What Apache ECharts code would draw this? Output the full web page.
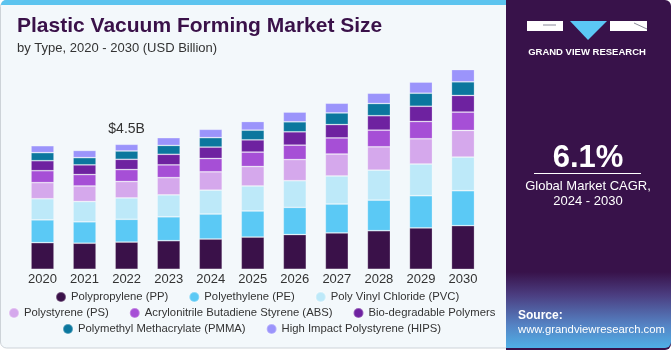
<!DOCTYPE html>
<html>
<head>
<meta charset="utf-8">
<title>Plastic Vacuum Forming Market Size</title>
<script src="https://cdn.jsdelivr.net/npm/echarts@6/dist/echarts.min.js"></script>
<style>
  html, body { margin: 0; padding: 0; background: #ffffff; }
  #main { width: 671px; height: 350px; }
</style>
</head>
<body>
<div id="main"></div>
<script>
// 数据
var years = ["2020", "2021", "2022", "2023", "2024", "2025", "2026", "2027", "2028", "2029", "2030"];
var pp   = [0.96, 0.94, 0.98, 1.03, 1.09, 1.16, 1.25, 1.31, 1.39, 1.49, 1.57];
var pe   = [0.82, 0.77, 0.82, 0.86, 0.90, 0.94, 0.98, 1.04, 1.10, 1.16, 1.26];
var pvc  = [0.76, 0.73, 0.77, 0.79, 0.86, 0.90, 0.96, 1.01, 1.08, 1.14, 1.21];
var ps   = [0.58, 0.56, 0.59, 0.62, 0.66, 0.70, 0.76, 0.79, 0.84, 0.91, 0.96];
var abs  = [0.43, 0.41, 0.43, 0.46, 0.48, 0.52, 0.52, 0.58, 0.60, 0.62, 0.66];
var bio  = [0.36, 0.35, 0.37, 0.38, 0.41, 0.44, 0.48, 0.48, 0.52, 0.55, 0.60];
var pmma = [0.29, 0.26, 0.30, 0.32, 0.34, 0.35, 0.36, 0.42, 0.44, 0.47, 0.49];
var hips = [0.25, 0.26, 0.24, 0.28, 0.30, 0.31, 0.35, 0.35, 0.37, 0.40, 0.44];
var names = [
  "Polypropylene (PP)",
  "Polyethylene (PE)",
  "Poly Vinyl Chloride (PVC)",
  "Polystyrene (PS)",
  "Acrylonitrile Butadiene Styrene (ABS)",
  "Bio-degradable Polymers",
  "Polymethyl Methacrylate (PMMA)",
  "High Impact Polystyrene (HIPS)"
];
var colors = ["#3a1149", "#5bc9f5", "#bde9f9", "#d5a8ec", "#a64fd6", "#6e22a0", "#0b779e", "#9b94fb"];
var labelYear = "2022";
var labelText = "$4.5B";
var cagr = "6.1%";

(function () {
  var myChart = echarts.init(document.getElementById("main"));
  var font = "Liberation Sans, Arial, sans-serif";
  var all = [pp, pe, pvc, ps, abs, bio, pmma, hips];

  var series = all.map(function (vals, i) {
    var data = vals.slice();
    // 最上面一层加 $4.5B 标签
    if (i === all.length - 1) {
      var k = years.indexOf(labelYear);
      data[k] = {
        value: vals[k],
        label: {
          show: true,
          position: "top",
          distance: 8,
          formatter: labelText,
          color: "#333",
          fontSize: 14,
          fontFamily: font
        }
      };
    }
    return {
      name: names[i],
      type: "bar",
      stack: "total",
      barWidth: 23,
      data: data,
      itemStyle: {
        color: colors[i],
        borderColor: "rgba(255,255,255,0.3)",
        borderWidth: 0.8
      },
      emphasis: { disabled: true },
      animation: false
    };
  });

  var legendBase = {
    icon: "circle",
    itemWidth: 10,
    itemHeight: 10,
    itemGap: 20,
    padding: 0,
    textStyle: { color: "#333", fontSize: 11.3, fontFamily: font }
  };
  function legend(left, top, data) {
    return Object.assign({}, legendBase, { left: left, top: top, data: data });
  }

  var option = {
    color: colors,
    title: {
      text: "Plastic Vacuum Forming Market Size",
      subtext: "by Type, 2020 - 2030 (USD Billion)",
      left: 17,
      top: 16,
      padding: 0,
      itemGap: 5,
      textStyle: { color: "#3a1149", fontSize: 21, fontWeight: "bold", fontFamily: font },
      subtextStyle: { color: "#333", fontSize: 13, fontFamily: font }
    },
    legend: [
      legend(55, 291, names.slice(0, 3)),
      legend(8, 307, names.slice(3, 6)),
      legend(62, 323, names.slice(6, 8))
    ],
    grid: { left: 21.5, right: 187, top: 47.1, bottom: 80.7 },
    xAxis: {
      type: "category",
      data: years,
      axisLine: { show: false },
      axisTick: { show: false },
      axisLabel: { color: "#333", fontSize: 13, margin: 4, fontFamily: font }
    },
    yAxis: { type: "value", min: 0, max: 8, show: false },
    graphic: [
      // 卡片背景
      { type: "rect", z: -10, shape: { x: 0.5, y: 0.5, width: 520, height: 347.5, r: 6 },
        style: { fill: "#f3f8fb", stroke: "#cdd3d8", lineWidth: 1 } },
      { type: "rect", z: -9, shape: { x: 1, y: 0, width: 510, height: 5, r: [6, 0, 0, 0] },
        style: { fill: "#5cc4ef" } },
      // 右侧面板
      { type: "rect", z: -8, shape: { x: 506, y: 0, width: 165, height: 350, r: [0, 6, 6, 0] },
        style: { fill: "#38124a" } },
      { type: "rect", z: -7, shape: { x: 506, y: 272, width: 165, height: 76, r: [0, 0, 6, 0] },
        style: { fill: new echarts.graphic.LinearGradient(0, 0, 0, 1, [
          { offset: 0, color: "#38124a" },
          { offset: 0.3, color: "#4b3d80" },
          { offset: 0.7, color: "#5583c4" },
          { offset: 1, color: "#4fb0e6" }
        ]) } },
      // logo
      { type: "rect", shape: { x: 527, y: 21, width: 36, height: 10 }, style: { fill: "#fff" } },
      { type: "line", shape: { x1: 543, y1: 25, x2: 556, y2: 25 }, style: { stroke: "#8a8a9a", lineWidth: 1 } },
      { type: "polygon", shape: { points: [[570, 21], [607, 21], [588, 40]] }, style: { fill: "#5bc8f5" } },
      { type: "rect", shape: { x: 610, y: 21, width: 37, height: 10 }, style: { fill: "#fff" } },
      { type: "line", shape: { x1: 634, y1: 23, x2: 647, y2: 29 }, style: { stroke: "#8a8a9a", lineWidth: 1 } },
      { type: "text", x: 587, y: 52,
        style: { text: "GRAND VIEW RESEARCH", fill: "#fff", font: "bold 9.5px " + font, textAlign: "center", textVerticalAlign: "middle" } },
      // CAGR
      { type: "text", x: 588, y: 158,
        style: { text: cagr, fill: "#fff", font: "bold 31px " + font, textAlign: "center", textVerticalAlign: "middle" } },
      { type: "line", shape: { x1: 534, y1: 173.5, x2: 641, y2: 173.5 }, style: { stroke: "#fff", lineWidth: 1 } },
      { type: "text", x: 588, y: 186,
        style: { text: "Global Market CAGR,", fill: "#fff", font: "13px " + font, textAlign: "center", textVerticalAlign: "middle" } },
      { type: "text", x: 588, y: 201,
        style: { text: "2024 - 2030", fill: "#fff", font: "13px " + font, textAlign: "center", textVerticalAlign: "middle" } },
      // 来源
      { type: "text", x: 518, y: 316,
        style: { text: "Source:", fill: "#fff", font: "bold 12px " + font, textVerticalAlign: "middle" } },
      { type: "text", x: 518, y: 330,
        style: { text: "www.grandviewresearch.com", fill: "#fff", font: "11.3px " + font, textVerticalAlign: "middle" } }
    ],
    series: series
  };

  myChart.setOption(option);
  window.addEventListener("resize", function () {
    myChart.resize();
  });
})();
</script>
</body>
</html>
